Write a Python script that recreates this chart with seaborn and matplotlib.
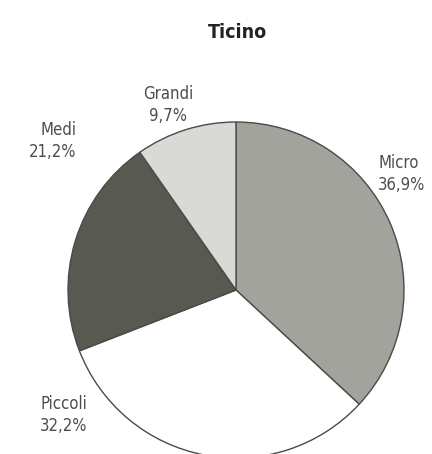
import matplotlib
matplotlib.use("Agg")
import matplotlib.pyplot as plt
import seaborn as sns

# data
categories = ["Micro", "Piccoli", "Medi", "Grandi"]
shares = [36.9, 32.2, 21.2, 9.7]
share_labels = ["36,9%", "32,2%", "21,2%", "9,7%"]

slice_colors = ["#a2a39c", "#ffffff", "#585a51", "#d9d9d5"]
# label anchor points in pixels (x from left, y from top) and alignment
label_pos = [(378, 174), (40, 415), (76, 141), (168, 105)]
label_ha = ["left", "left", "right", "center"]

sns.set_style("white")
plt.rcParams['font.family'] = ['DejaVu Sans']
plt.rcParams['font.stretch'] = 'condensed'

W, H = 432, 454
fig = plt.figure(figsize=(W / 100, H / 100), dpi=100)
ax = fig.add_axes([0, 0, 1, 1])

cx, cy, r = 236, H - 290, 168
ax.pie(shares, colors=slice_colors, startangle=90, counterclock=False,
       center=(cx, cy), radius=r, frame=True,
       wedgeprops=dict(edgecolor="#4a4a46", linewidth=1.0))
ax.set_xlim(0, W)
ax.set_ylim(0, H)
ax.set_aspect("equal")
ax.axis("off")

for name, lab, (px, py), ha in zip(categories, share_labels, label_pos, label_ha):
    ax.text(px, H - py, name + "\n" + lab, ha=ha, va="center", multialignment=ha,
            fontsize=12, fontstretch="condensed", color="#4d4d4d",
            linespacing=1.3)

ax.text(237, H - 32, "Ticino", ha="center", va="center",
        fontsize=14, fontweight="bold", fontstretch="condensed",
        color="#222222")

fig.savefig("out.png", dpi=100)
